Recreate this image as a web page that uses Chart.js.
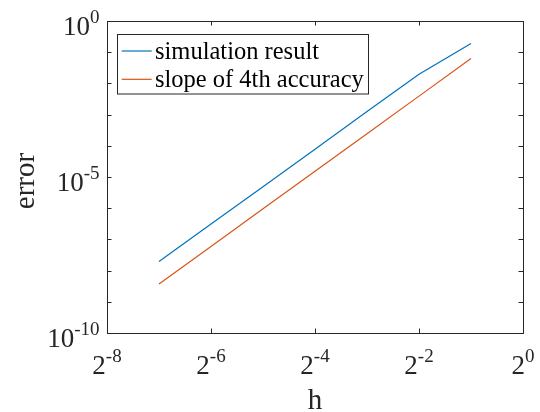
<!DOCTYPE html>
<html>
<head>
<meta charset="utf-8">
<script src="https://cdn.jsdelivr.net/npm/chart.js@4/dist/chart.umd.min.js"></script>
<style>
  html, body { margin: 0; padding: 0; background: #ffffff; }
  canvas { display: block; }
</style>
</head>
<body>
<canvas id="errChart" width="540" height="412"></canvas>
<script>
// step sizes h = 2^-7 ... 2^-1
const hValues = [0.0078125, 0.015625, 0.03125, 0.0625, 0.125, 0.25, 0.5];
// values
const simulationError = [1.95e-8, 3.1e-7, 4.9e-6, 7.8e-5, 1.25e-3, 1.95e-2, 0.19];
const slopeReference = [3.73e-9, 5.96e-8, 9.54e-7, 1.53e-5, 2.44e-4, 3.91e-3, 0.0625];

const seriesLabels = ['simulation result', 'slope of 4th accuracy'];
const seriesColors = ['#0072BD', '#D95319'];

// axis ticks
const xTickValues = [0.00390625, 0.015625, 0.0625, 0.25, 1];
const xTickExponents = ['-8', '-6', '-4', '-2', '0'];
const yTickValues = [1e-10, 1e-5, 1];
const yTickExponents = ['-10', '-5', '0'];
const yDecadeTicks = [1e-10, 1e-9, 1e-8, 1e-7, 1e-6, 1e-5, 1e-4, 1e-3, 1e-2, 1e-1, 1];

const serif = '"Liberation Serif", "Times New Roman", serif';
const axisColor = '#262626';

// draws "base^exp" with the exponent raised
function drawPower(ctx, base, exp, x, baseline, align) {
    ctx.font = '27px ' + serif;
    const wb = ctx.measureText(base).width;
    ctx.font = '19px ' + serif;
    const we = ctx.measureText(exp).width;
    const total = wb + we;
    let start = x;
    if (align === 'center') start = x - total / 2;
    if (align === 'right') start = x - total;
    ctx.textAlign = 'left';
    ctx.textBaseline = 'alphabetic';
    ctx.font = '27px ' + serif;
    ctx.fillText(base, start, baseline);
    ctx.font = '19px ' + serif;
    ctx.fillText(exp, start + wb, baseline - 12.5);
}

const matlabAxes = {
    id: 'matlabAxes',
    afterDraw(chart) {
        const ctx = chart.ctx;
        const area = chart.chartArea;
        const xs = chart.scales.x;
        const ys = chart.scales.y;
        const tickLen = 4.5;

        ctx.save();
        ctx.strokeStyle = axisColor;
        ctx.fillStyle = axisColor;
        ctx.lineWidth = 1;

        // box
        ctx.strokeRect(Math.round(area.left) + 0.5, Math.round(area.top) + 0.5,
            Math.round(area.right - area.left), Math.round(area.bottom - area.top));

        // inward ticks
        ctx.beginPath();
        xTickValues.forEach(v => {
            const px = Math.round(xs.getPixelForValue(v)) + 0.5;
            ctx.moveTo(px, area.bottom);
            ctx.lineTo(px, area.bottom - tickLen);
            ctx.moveTo(px, area.top);
            ctx.lineTo(px, area.top + tickLen);
        });
        yDecadeTicks.forEach(v => {
            const py = Math.round(ys.getPixelForValue(v)) + 0.5;
            ctx.moveTo(area.left, py);
            ctx.lineTo(area.left + tickLen, py);
            ctx.moveTo(area.right, py);
            ctx.lineTo(area.right - tickLen, py);
        });
        ctx.stroke();

        // tick labels
        xTickValues.forEach((v, i) => {
            drawPower(ctx, '2', xTickExponents[i], xs.getPixelForValue(v), area.bottom + 41, 'center');
        });
        yTickValues.forEach((v, i) => {
            drawPower(ctx, '10', yTickExponents[i], area.left - 7.5, ys.getPixelForValue(v) + 14, 'right');
        });

        // axis titles
        ctx.font = '29px ' + serif;
        ctx.textAlign = 'center';
        ctx.textBaseline = 'alphabetic';
        ctx.fillText('h', (area.left + area.right) / 2, 409);
        ctx.save();
        ctx.translate(33.5, 181);
        ctx.rotate(-Math.PI / 2);
        ctx.fillText('error', 0, 0);
        ctx.restore();

        // legend box
        const lx = 117.5, ly = 34.5, lw = 251, lh = 59.5;
        ctx.fillStyle = '#ffffff';
        ctx.fillRect(lx, ly, lw, lh);
        ctx.strokeStyle = axisColor;
        ctx.strokeRect(lx, ly, lw, lh);
        const rows = [51, 79.3];
        chart.data.datasets.forEach((ds, i) => {
            ctx.strokeStyle = ds.borderColor;
            ctx.lineWidth = 1.2;
            ctx.beginPath();
            ctx.moveTo(121.7, rows[i]);
            ctx.lineTo(151.7, rows[i]);
            ctx.stroke();
            ctx.fillStyle = '#000000';
            ctx.font = '24.5px ' + serif;
            ctx.textAlign = 'left';
            ctx.fillText(ds.label, 155, rows[i] + 8);
        });
        ctx.restore();
    }
};

const ctx = document.getElementById('errChart').getContext('2d');
new Chart(ctx, {
    type: 'line',
    data: {
        datasets: [
            {
                label: seriesLabels[0],
                data: hValues.map((h, i) => ({ x: h, y: simulationError[i] })),
                borderColor: seriesColors[0],
                borderWidth: 1.2,
                pointRadius: 0,
                fill: false,
                tension: 0
            },
            {
                label: seriesLabels[1],
                data: hValues.map((h, i) => ({ x: h, y: slopeReference[i] })),
                borderColor: seriesColors[1],
                borderWidth: 1.2,
                pointRadius: 0,
                fill: false,
                tension: 0
            }
        ]
    },
    options: {
        responsive: false,
        animation: false,
        layout: { padding: { left: 0, right: 17, top: 21, bottom: 0 } },
        plugins: {
            legend: { display: false },
            tooltip: { enabled: false }
        },
        scales: {
            x: {
                type: 'logarithmic',
                min: 0.00390625,
                max: 1,
                grid: { display: false },
                border: { display: false },
                ticks: { display: false },
                afterFit: s => { s.height = 79; }
            },
            y: {
                type: 'logarithmic',
                min: 1e-10,
                max: 1,
                grid: { display: false },
                border: { display: false },
                ticks: { display: false },
                afterFit: s => { s.width = 107; }
            }
        }
    },
    plugins: [matlabAxes]
});
</script>
</body>
</html>
